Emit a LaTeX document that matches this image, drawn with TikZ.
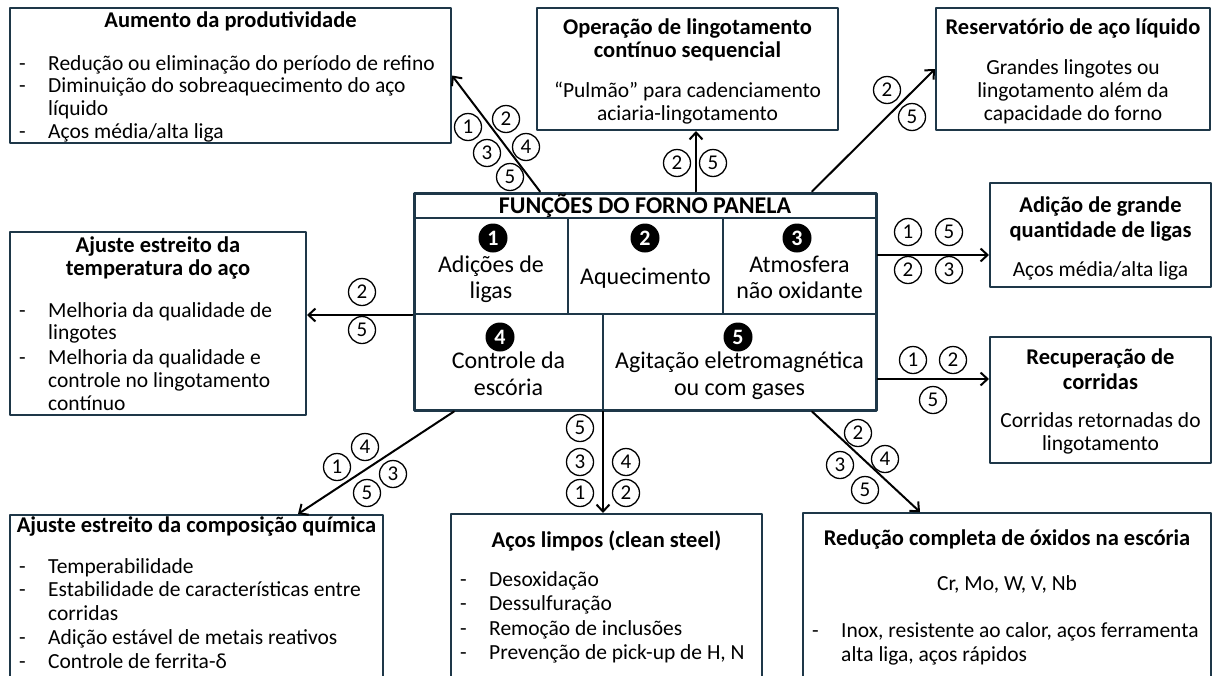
\documentclass[tikz,border=0pt]{standalone}
\usepackage{fontspec}
\setmainfont{Carlito}
\usetikzlibrary{arrows.meta}
\definecolor{edge}{RGB}{30,55,72}

\begin{document}
\begin{tikzpicture}[x=1pt,y=-1pt,>={Straight Barb[length=7pt,width=13pt]}, line join=round, line cap=round,
	panel/.style={draw=edge, line width=2pt, inner sep=0pt},
	txt/.style={inner sep=0pt, yshift=-3pt, font=\fontsize{21.5}{23}\selectfont},
	head/.style={inner sep=0pt, yshift=-3pt, font=\fontsize{22.5}{24}\selectfont\bfseries},
	cell/.style={inner sep=0pt, yshift=-1.5pt, font=\fontsize{24}{26}\selectfont},
	num/.style={circle, draw, line width=1.3pt, inner sep=0pt, minimum size=27pt, font=\fontsize{21}{21}\selectfont},
	fnum/.style={circle, fill=black, text=white, inner sep=0pt, minimum size=29pt, font=\fontsize{22}{22}\selectfont\bfseries},
	link/.style={->, line width=2pt}]
	\useasboundingbox (0,0) rectangle (1213,675);
	\clip (0,0) rectangle (1213,675);
	% central box
	\node[draw=edge, line width=3pt, minimum width=462pt, minimum height=217pt] (fp) at (645,301.5) {};
	\draw[edge, line width=1.5pt] (414,218)--(876,218) (414,314)--(876,314);
	\draw[edge, line width=1.5pt] (568,218)--(568,314) (723,218)--(723,314) (603,314)--(603,410);
	\node[inner sep=0pt, font=\fontsize{24}{26}\selectfont\bfseries, anchor=mid] (fp-t) at (645,211) {FUNÇÕES DO FORNO PANELA};
	\foreach \n/\x/\y in {1/493/238, 2/645/238, 3/797/238, 4/500/337, 5/738/337}
	\node[fnum] (fp-n\n) at (\x,\y) {\n};
	\foreach \x/\y/\t [count=\i] in {491/269/Adições de, 491/295/ligas, 645.5/281/Aquecimento, 799.5/269/Atmosfera, 799.5/295/não oxidante, 508.5/365/Controle da, 508.5/392/escória, 739.5/365/Agitação eletromagnética, 739.5/392/ou com gases}
	\node[cell, anchor=mid] (fp-c\i) at (\x,\y) {\t};
	% outer boxes
	\node[panel, minimum width=441pt, minimum height=135pt] (aum) at (230.5,75.5) {};
	\node[panel, minimum width=301pt, minimum height=122pt] (op) at (687.5,69) {};
	\node[panel, minimum width=274pt, minimum height=122pt] (res) at (1073,69) {};
	\node[panel, minimum width=221pt, minimum height=104pt] (ad) at (1100.5,235) {};
	\node[panel, minimum width=221pt, minimum height=126pt] (rec) at (1100.5,400) {};
	\node[panel, minimum width=296pt, minimum height=183pt] (temp) at (158,323.5) {};
	\node[panel, minimum width=373pt, minimum height=185pt] (comp) at (196.5,607.5) {};
	\node[panel, minimum width=311pt, minimum height=186pt] (limp) at (606.5,607) {};
	\node[panel, minimum width=408pt, minimum height=187pt] (red) at (1007,606.5) {};
	% titles
	\node[head, anchor=mid] (aum-t) at (230.5,22) {Aumento da produtividade};
	\node[head, anchor=mid] (op-t1) at (687.5,29) {Operação de lingotamento};
	\node[head, anchor=mid] (op-t2) at (687.5,52) {contínuo sequencial};
	\node[head, anchor=mid] (res-t) at (1073,29) {Reservatório de aço líquido};
	\node[head, anchor=mid] (ad-t1) at (1100.5,207) {Adição de grande};
	\node[head, anchor=mid] (ad-t2) at (1100.5,232) {quantidade de ligas};
	\node[head, anchor=mid] (rec-t1) at (1100.5,359) {Recuperação de};
	\node[head, anchor=mid] (rec-t2) at (1100.5,384) {corridas};
	\node[head, anchor=mid] (temp-t1) at (158,247) {Ajuste estreito da};
	\node[head, anchor=mid] (temp-t2) at (158,270) {temperatura do aço};
	\node[head, anchor=mid] (comp-t) at (196.5,527) {Ajuste estreito da composição química};
	\node[head, anchor=mid] (limp-t) at (606.5,542) {Aços limpos (clean steel)};
	\node[head, anchor=mid] (red-t) at (1007,540) {Redução completa de óxidos na escória};
	% centred texts
	\foreach \x/\y/\t [count=\i] in {687.5/92/“Pulmão” para cadenciamento, 687.5/115/aciaria-lingotamento, 1073/69/Grandes lingotes ou, 1073/92/lingotamento além da, 1073/115/capacidade do forno, 1100.5/271/{Aços média/alta liga}, 1100.5/422/Corridas retornadas do, 1100.5/445/lingotamento, 1007/585/{Cr, Mo, W, V, Nb}}
	\node[txt, anchor=mid] (ct-\i) at (\x,\y) {\t};
	% lists
	\foreach \x/\y/\t [count=\i] in {48/65/Redução ou eliminação do período de refino, 48/87/Diminuição do sobreaquecimento do aço, 48/110/líquido, 48/133/{Aços média/alta liga},
		48/312/Melhoria da qualidade de, 48/334/lingotes, 48/359/Melhoria da qualidade e, 48/382/controle no lingotamento, 48/405/contínuo,
		48/568/Temperabilidade, 48/591/Estabilidade de características entre, 48/615/corridas, 48/639/Adição estável de metais reativos, 48/663/Controle de ferrita-δ,
		489/581/Desoxidação, 489/605/Dessulfuração, 489/630/Remoção de inclusões, 489/654/{Prevenção de pick-up de H, N},
		841/632/{Inox, resistente ao calor, aços ferramenta}, 841/656/{alta liga, aços rápidos}}
	\node[txt, anchor=mid west] (li-\i) at (\x,\y) {\t};
	\foreach \x/\y [count=\i] in {19/65, 19/87, 19/133, 19/312, 19/359, 19/568, 19/591, 19/639, 19/663, 460/581, 460/605, 460/630, 460/654, 812/632}
	\node[txt, anchor=mid west] (da-\i) at (\x,\y) {-};
	% arrows
	\coordinate (s-aum) at ([xshift=-105pt]fp.north);
	\coordinate (s-op) at ([xshift=51pt]fp.north);
	\coordinate (s-res) at ([xshift=167pt]fp.north);
	\coordinate (s-ad) at ([yshift=46.5pt]fp.east);
	\coordinate (s-rec) at ([yshift=-77.5pt]fp.east);
	\coordinate (s-temp) at ([yshift=-13.5pt]fp.west);
	\coordinate (s-comp) at ([xshift=-191pt]fp.south);
	\coordinate (s-limp) at ([xshift=-42pt]fp.south);
	\coordinate (s-red) at ([xshift=167pt]fp.south);
	\coordinate (e-comp) at (298,513);
	\coordinate (e-red) at (920,513);
	\draw[link] (s-aum)--(aum.east);
	\draw[link] (s-op)--(s-op |- op.south);
	\draw[link] (s-res)--(res.west);
	\draw[link] (s-ad)--(s-ad -| ad.west);
	\draw[link] (s-rec)--(s-rec -| rec.west);
	\draw[link] (s-temp)--(s-temp -| temp.east);
	\draw[link] (s-comp)--(e-comp |- comp.north);
	\draw[link] (s-limp)--(s-limp |- limp.north);
	\draw[link] (s-red)--(e-red |- red.north);
	% labels on the arrows
	\foreach \n/\x/\y [count=\i] in {1/468/127, 2/506/119, 3/487/153, 4/526/147, 5/510/177,
		2/677/163, 5/713/163, 2/887/90, 5/912/117,
		1/908/232, 5/949/232, 2/908/270, 3/949/270,
		1/913/360, 2/953/360, 5/933/400, 2/362/292, 5/362/330,
		4/365/447, 1/337/467, 3/393/474, 5/367/493,
		5/580/428, 3/580/462, 1/580/493, 4/626/462, 2/626/493,
		2/858/433, 4/885/459, 3/840/465, 5/865/490}
	\node[num] (lb-\i) at (\x,\y) {\n};
\end{tikzpicture}
\end{document}
